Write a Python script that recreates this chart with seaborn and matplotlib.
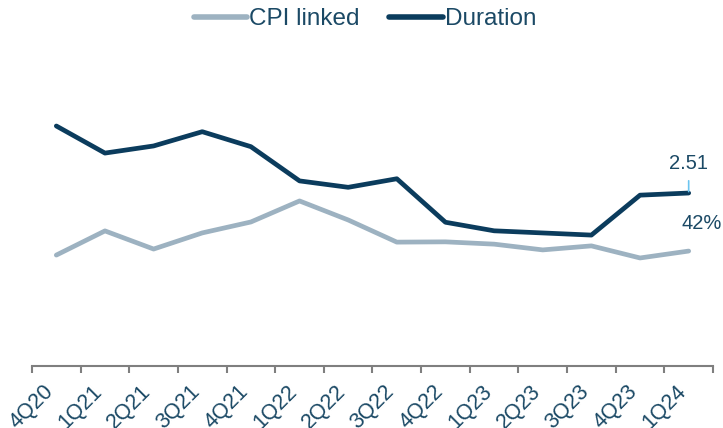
import matplotlib
matplotlib.use("Agg")
import matplotlib.pyplot as plt
import matplotlib.transforms as mtransforms
from matplotlib.lines import Line2D
import pandas as pd
import seaborn as sns

# data
quarters = ["4Q20", "1Q21", "2Q21", "3Q21", "4Q21", "1Q22", "2Q22",
            "3Q22", "4Q22", "1Q23", "2Q23", "3Q23", "4Q23", "1Q24"]
duration = [3.45, 3.07, 3.17, 3.37, 3.16, 2.68, 2.59,
            2.71, 2.10, 1.98, 1.95, 1.92, 2.48, 2.51]
cpi_linked = [40.6, 49.0, 42.7, 48.3, 52.1, 59.4, 52.8,
              45.1, 45.2, 44.4, 42.4, 43.8, 39.6, 42.0]

DUR_COLOR = "#0B3C5D"
CPI_COLOR = "#9DB2C1"
TEXT_COLOR = "#1B4965"

df = pd.DataFrame({"quarter": quarters, "duration": duration, "cpi": cpi_linked})

sns.set_style("white")
plt.rcParams["font.family"] = ["Liberation Sans", "DejaVu Sans"]

W, H = 723, 428
fig = plt.figure(figsize=(W / 100, H / 100), dpi=100)
ax = fig.add_axes([32 / W, (H - 366) / H, (713 - 32) / W, (366 - 40) / H])
ax2 = ax.twinx()

sns.lineplot(data=df, x="quarter", y="cpi", ax=ax2, color=CPI_COLOR,
             linewidth=3.4, sort=False)
sns.lineplot(data=df, x="quarter", y="duration", ax=ax, color=DUR_COLOR,
             linewidth=3.4, sort=False)
ax.set_zorder(ax2.get_zorder() + 1)
ax.patch.set_visible(False)

n = len(quarters)
ax.set_xlim(-0.5, n - 0.5)
ax.set_ylim(0.084, 4.656)
ax2.set_ylim(2.08, 115.3)

for a in (ax, ax2):
    a.set_xlabel("")
    a.set_ylabel("")
    a.set_yticks([])
    for s in ("top", "left", "right", "bottom"):
        a.spines[s].set_visible(False)
ax.spines["bottom"].set_visible(True)
ax.spines["bottom"].set_color("#7F7F7F")
ax.spines["bottom"].set_linewidth(1.5)

ax.set_xticks(range(n))
ax.set_xticklabels(quarters, rotation=45, ha="right", rotation_mode="anchor",
                   fontsize=15.5, color=TEXT_COLOR)
ax.tick_params(axis="x", which="major", length=0, pad=11)
ax.set_xticks([i - 0.5 for i in range(n + 1)], minor=True)
ax.tick_params(axis="x", which="minor", bottom=True, length=5, width=1.5,
               color="#7F7F7F", direction="out")
# shift labels so their upper end sits under the category centre
offset = mtransforms.ScaledTranslation(-0.13, 0, fig.dpi_scale_trans)
for lab in ax.get_xticklabels():
    lab.set_transform(lab.get_transform() + offset)

# end labels
ax.annotate("2.51", xy=(n - 1, duration[-1]), xytext=(0, 21),
            textcoords="offset points", ha="center", va="center",
            fontsize=14.5, color=TEXT_COLOR,
            arrowprops=dict(arrowstyle="-", color="#6CC5F0", lw=1.2,
                            shrinkA=3, shrinkB=1))
ax2.annotate("42%", xy=(n - 1, cpi_linked[-1]), xytext=(-5, 20),
             textcoords="offset points", ha="left", va="center",
             fontsize=14.5, color=TEXT_COLOR, annotation_clip=False)

handles = [Line2D([0], [0], color=CPI_COLOR, lw=4),
           Line2D([0], [0], color=DUR_COLOR, lw=4)]
fig.legend(handles, ["CPI linked", "Duration"], loc="center",
           bbox_to_anchor=(365 / W, 1 - 19 / H), ncol=2, frameon=False,
           fontsize=17.5, handlelength=2.2, handletextpad=0.1,
           columnspacing=1.2, labelcolor=TEXT_COLOR)

fig.savefig("out.png", dpi=100)
